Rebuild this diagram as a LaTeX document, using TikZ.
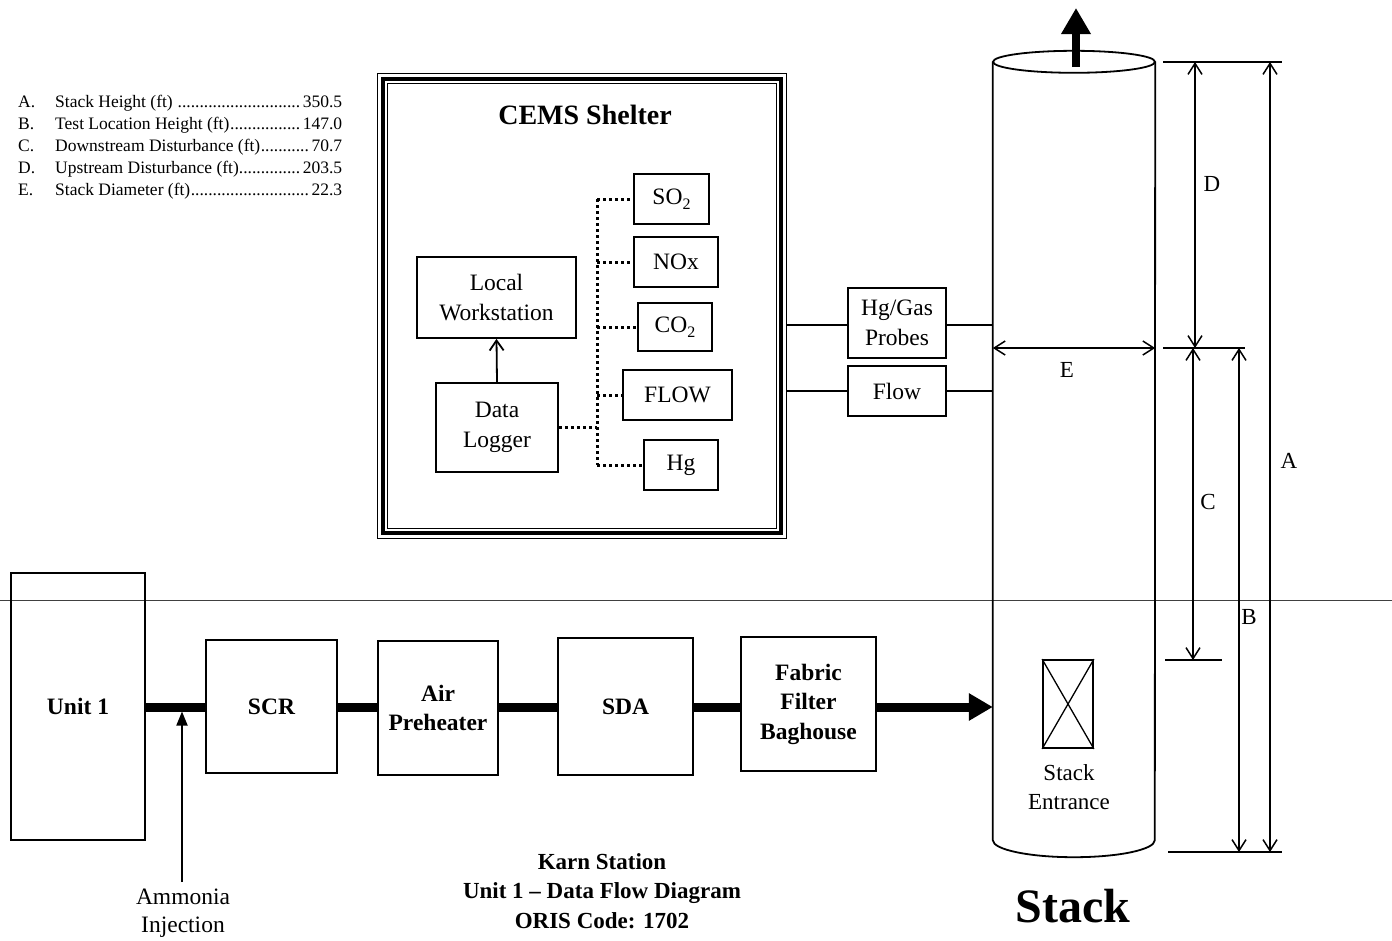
\documentclass[tikz,border=0pt]{standalone}
\usepackage{fontspec}
\setmainfont{Liberation Serif}
\usetikzlibrary{arrows.meta}
\newcommand\tightdots{\leaders\hbox{.}\hfill}
\newcommand\lowtwo{\raisebox{-5pt}{\fontsize{16}{16}\selectfont 2}}
\tikzset{
  box/.style={draw, line width=1.8pt, inner sep=0pt, align=center, font=\fontsize{23.5}{29.5}\selectfont},
  bbox/.style={box, font=\fontsize{23.5}{29.5}\selectfont\bfseries},
  dotsline/.style={line width=3pt, dash pattern=on 3pt off 3pt},
  flowline/.style={line width=9pt},
  dimline/.style={line width=1.5pt, {Straight Barb[length=11pt,width=14pt]}-{Straight Barb[length=11pt,width=14pt]}},
  refline/.style={line width=1.5pt},
  lbl/.style={font=\fontsize{23}{28.5}\selectfont, align=center},
  legend/.style={font=\fontsize{17.5}{19}\selectfont, anchor=base west, inner sep=0pt},
}
\begin{document}
\begin{tikzpicture}[x=1pt,y=-1pt]
\useasboundingbox[fill=white] (0,0) rectangle (1392,940);

% ground line
\coordinate (g0) at (0,600);
\coordinate (g1) at (1392,600);
\draw[line width=1pt, black!75] (g0) -- (g1);

% legend
\foreach \n/\y/\l/\t/\v in {la/107/A./Stack Height (ft) /350.5, lb/129/B./Test Location Height (ft)/147.0, lc/151/C./Downstream Disturbance (ft)/70.7, ld/173/D./Upstream Disturbance (ft)/203.5, le/195/E./Stack Diameter  (ft)/22.3}{
  \node[legend] (\n l) at (18,\y) {\l};
  \node[legend] (\n t) at (55,\y) {\makebox[287pt][l]{\t\tightdots\v}};
}

% CEMS shelter
\node[draw, line width=3.5pt, minimum width=398pt, minimum height=454pt, inner sep=0pt] (shelter) at (582,306) {};
\draw[line width=1.3pt] ([xshift=-4pt,yshift=4pt]shelter.north west) rectangle ([xshift=4pt,yshift=-4pt]shelter.south east);
\draw[line width=1.3pt] ([xshift=6pt,yshift=-6pt]shelter.north west) rectangle ([xshift=-6pt,yshift=6pt]shelter.south east);
\node[font=\fontsize{28}{30}\selectfont\bfseries] (sheltertitle) at (585,115) {CEMS Shelter};

\node[box, minimum width=159pt, minimum height=81pt] (lw) at (496.5,297.5) {Local\\Workstation};
\node[box, minimum width=122pt, minimum height=89pt] (dl) at (497,427.5) {Data\\Logger};
\draw[line width=1.8pt, -{Straight Barb[length=10pt,width=14pt]}] (dl.north) -- (lw.south);

\node[box, minimum width=75pt, minimum height=50pt] (so2) at (671.5,199) {SO\lowtwo};
\node[box, minimum width=84pt, minimum height=50pt] (nox) at (676,262) {NOx};
\node[box, minimum width=74pt, minimum height=48pt] (co2) at (675,327) {CO\lowtwo};
\node[box, minimum width=109pt, minimum height=50pt] (flow) at (677.5,395) {FLOW};
\node[box, minimum width=74pt, minimum height=50pt] (hg) at (681,465) {Hg};

\coordinate (bus) at (597,0);
\draw[dotsline] (dl.east) -- (bus |- dl.east);
\draw[dotsline] (bus |- so2.west) -- (bus |- hg.west);
\foreach \b in {so2,nox,co2,flow,hg}{
  \draw[dotsline] (bus |- \b.west) -- (\b.west);
}

% probes
\node[box, minimum width=98pt, minimum height=70pt] (probes) at (897,323) {Hg/Gas\\Probes};
\node[box, minimum width=98pt, minimum height=50pt] (flowp) at (897,391) {Flow};

% stack
\node[minimum width=162pt, minimum height=778pt, inner sep=0pt] (stack) at (1074,451) {};
\draw[line width=1.8pt] (stack.north) ellipse [x radius=81, y radius=11];
\draw[line width=1.8pt] (stack.north west) -- (stack.south west)
  arc[start angle=180, end angle=0, x radius=81, y radius=17] -- (stack.north east);
\coordinate (smoke) at (1076,8);
\draw[line width=8pt, -{Triangle[length=26pt,width=28pt]}] (1076,67) -- (smoke);

\coordinate (y1) at (0,325);
\coordinate (y2) at (0,391);
\draw[line width=1.3pt] ([xshift=4pt]shelter.east |- y1) -- (probes.west |- y1);
\draw[line width=1.3pt] (probes.east |- y1) -- (stack.west |- y1);
\draw[line width=1.3pt] ([xshift=4pt]shelter.east |- y2) -- (flowp.west |- y2);
\draw[line width=1.3pt] (flowp.east |- y2) -- (stack.west |- y2);

% E
\coordinate (ey) at (0,348);
\draw[dimline] (stack.west |- ey) -- (stack.east |- ey);
\node[lbl] (elbl) at (1067,370) {E};

% stack entrance
\node[draw, line width=1.8pt, minimum width=50pt, minimum height=88pt, inner sep=0pt] (entr) at (1068,704) {};
\draw[line width=1.3pt] (entr.north west) -- (entr.south east);
\draw[line width=1.3pt] (entr.north east) -- (entr.south west);
\node[lbl] (entrlbl) at (1069,787) {Stack\\Entrance};
\node[font=\fontsize{48}{50}\selectfont\bfseries] (stacklbl) at (1073,906) {Stack};

% dimension reference lines
\coordinate (t0) at (1163,62);  \coordinate (t1) at (1282,62);
\coordinate (m0) at (1163,348); \coordinate (m1) at (1245,348);
\coordinate (c0) at (1165,660); \coordinate (c1) at (1222,660);
\coordinate (b0) at (1168,852); \coordinate (b1) at (1282,852);
\draw[refline] (t0) -- (t1);
\draw[refline] (m0) -- (m1);
\draw[refline] (c0) -- (c1);
\draw[refline] (b0) -- (b1);
\coordinate (xd) at (1195,0);
\coordinate (xc) at (1193,0);
\coordinate (xb) at (1239,0);
\coordinate (xa) at (1270,0);
\draw[dimline] (xd |- m0) -- (xd |- t0);
\draw[dimline] (xc |- m0) -- (xc |- c0);
\draw[dimline] (xb |- m0) -- (xb |- b0);
\draw[dimline] (xa |- t0) -- (xa |- b0);
\node[lbl] (dlbl) at (1212,184) {D};
\node[lbl] (clbl) at (1208,502) {C};
\node[lbl] (blbl) at (1249,617) {B};
\node[lbl] (albl) at (1289,461) {A};

% process train
\node[bbox, minimum width=134pt, minimum height=267pt] (unit1) at (78,706.5) {Unit 1};
\node[bbox, minimum width=131pt, minimum height=133pt] (scr) at (271.5,706.5) {SCR};
\node[bbox, minimum width=120pt, minimum height=134pt] (air) at (438,708) {Air\\Preheater};
\node[bbox, minimum width=135pt, minimum height=137pt] (sda) at (625.5,706.5) {SDA};
\node[bbox, minimum width=135pt, minimum height=134pt] (ff) at (808.5,704) {Fabric\\Filter\\Baghouse};

\coordinate (fy) at (0,707);
\draw[flowline] (unit1.east |- fy) -- (scr.west |- fy);
\draw[flowline] (scr.east |- fy) -- (air.west |- fy);
\draw[flowline] (air.east |- fy) -- (sda.west |- fy);
\draw[flowline] (sda.east |- fy) -- (ff.west |- fy);
\draw[flowline, -{Triangle[length=24pt,width=26pt]}] (ff.east |- fy) -- (stack.west |- fy);

\coordinate (amm) at (182,882);
\draw[line width=1.8pt, -{Triangle[length=14pt,width=11pt]}, shorten >=4.5pt] (amm) -- (amm |- fy);
\node[lbl, font=\fontsize{23.5}{28.5}\selectfont] (ammlbl) at (183,913) {Ammonia\\Injection};

% title
\node[align=center, font=\fontsize{23}{29.5}\selectfont\bfseries] (title) at (602,891) {Karn Station\\Unit 1 -- Data Flow Diagram\\ORIS Code: 1702};
\end{tikzpicture}
\end{document}
